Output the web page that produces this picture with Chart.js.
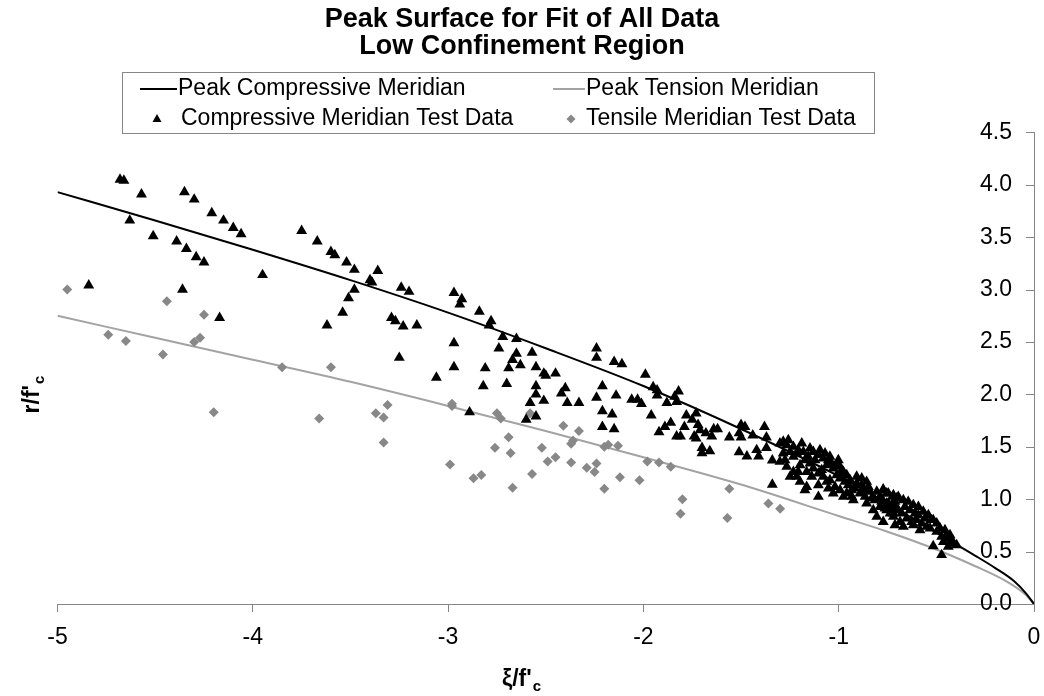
<!DOCTYPE html>
<html><head><meta charset="utf-8">
<script src="https://cdn.jsdelivr.net/npm/chart.js@4"></script>
<style>html,body{margin:0;padding:0;background:#fff}</style>
</head><body>
<canvas id="c" width="1044" height="696"></canvas>
<script>
// ---- data ----
const titleLines = ['Peak Surface for Fit of All Data', 'Low Confinement Region'];
const seriesNames = ['Peak Compressive Meridian', 'Peak Tension Meridian', 'Compressive Meridian Test Data', 'Tensile Meridian Test Data'];
const xTicks = [-5, -4, -3, -2, -1, 0];
const yTicks = [0, 0.5, 1, 1.5, 2, 2.5, 3, 3.5, 4, 4.5];

const compLineX = [-5, -4.5, -4, -3.5, -3, -2.5, -2, -1.5, -1, -0.75, -0.5, -0.3, -0.2, -0.1, -0.04, 0];
const compLineY = [3.93, 3.66, 3.38, 3.09, 2.78, 2.44, 2.08, 1.67, 1.22, 0.96, 0.68, 0.46, 0.345, 0.215, 0.1, 0];
const tensLineX = [-5, -4.5, -4, -3.5, -3, -2.5, -2, -1.5, -1, -0.75, -0.5, -0.3, -0.15, -0.05, 0];
const tensLineY = [2.75, 2.54, 2.33, 2.12, 1.89, 1.65, 1.40, 1.14, 0.84, 0.69, 0.52, 0.36, 0.225, 0.10, 0];

const compX = [-4.68,-4.66,-4.57,-4.35,-4.30,-4.21,-4.15,-4.10,-4.06,-4.63,-4.51,-4.39,-4.34,-4.29,-4.25,-3.95,-4.84,-4.36,-4.17,
 -3.75,-3.67,-3.60,-3.58,-3.52,-3.48,-3.36,-3.40,-3.39,-3.48,-3.51,-3.54,-3.62,-3.24,-3.20,-3.29,-3.27,-3.23,-3.16,-3.25,
 -2.97,-2.93,-2.94,-2.84,-2.78,-2.79,-2.72,-2.65,-2.97,-2.74,-2.65,-2.67,-2.57,-2.63,-2.69,-2.81,-2.97,-3.06,-2.55,-2.51,-2.50,-2.45,
 -2.70,-2.82,-2.55,-2.55,-2.51,-2.58,-2.55,-2.60,-2.89,
 -2.24,-2.24,-2.15,-2.11,-1.99,-2.40,-2.42,-2.21,-2.24,-2.14,-2.39,-2.33,-2.21,-2.16,-2.21,-2.15,-1.95,-1.93,-1.93,-1.82,-1.84,-1.83,
 -2.06,-2.03,-2.01,-1.88,-1.96,-1.92,-1.89,-1.86,-1.78,-1.75,-1.73,-1.79,-1.72,-1.71,-1.83,-1.81,-1.74,-1.73,-1.70,-1.66,-1.70,
 -1.68,-1.64,-1.62,-1.65,-1.56,-1.50,-1.48,-1.51,-1.50,-1.44,-1.38,-1.37,-1.51,-1.47,-1.42,-1.41,-1.37,-1.34,-1.34,
 -1.284,-1.266,-1.284,-1.249,-1.232,-1.207,-1.147,-1.104,-1.053,-1.173,-1.198,-1.266,-1.249,-1.207,-1.164,-1.138,-1.198,-1.164,
 -1.104,-1.104,-1.173,-1.087,-1.061,-1.028,-0.993,-0.976,-0.959,-0.942,-0.908,-0.882,-0.857,-1.045,-1.019,-0.993,-0.976,-0.917,
 -0.891,-0.874,-0.840,-0.805,-0.772,-0.754,-0.720,-0.703,-0.925,-0.857,-0.823,-0.789,-0.754,-0.720,-0.695,-0.805,
 -0.772,-0.720,-0.669,-0.618,-0.567,-0.524,-0.481,-0.447,-0.421,-0.396,-0.772,-0.516,-0.473,-0.754,-0.729,-0.703,-0.677,-0.652,
 -0.626,-0.601,-0.575,-0.549,-0.686,-0.618,-0.532,-0.498,-0.473,-0.447,-0.413,-0.737,-0.712,-0.635,-0.592,
 -1.301,-1.258,-1.232,-1.215,-1.189,-1.181,-1.156,-1.130,-1.121,-1.096,-1.079,-1.070,-1.045,-1.036,-1.010,-1.002,-0.993,-0.968,
 -0.951,-0.933,-0.908,-0.882,-0.865,-0.848,-0.831,-0.814,-0.789,-0.780,-0.746,-0.729,-0.712,-1.104,-1.079,-1.061,-1.232,-1.215,
 -1.130,-1.147,-1.053,-1.028,-0.959,-0.933,-1.010,-0.993,-1.301,-1.275,
 -0.746,-0.695,-0.644,-0.592,-0.541,-0.498,-0.456,-0.430,-0.780,-0.763,-0.720,-0.661,-0.609,-0.558,-0.516,-0.584,-0.669,-0.712,-0.464,-0.439];
const compY = [4.05,4.04,3.91,3.93,3.86,3.73,3.66,3.59,3.53,3.66,3.51,3.46,3.39,3.31,3.26,3.14,3.04,3.00,2.73,
 3.56,3.46,3.36,3.33,3.26,3.19,3.18,3.09,3.07,3.00,2.92,2.78,2.66,3.02,2.98,2.73,2.70,2.65,2.66,2.35,
 2.97,2.91,2.86,2.79,2.70,2.66,2.55,2.53,2.49,2.44,2.39,2.33,2.40,2.28,2.25,2.25,2.26,2.16,2.26,2.20,2.18,2.20,
 2.10,2.08,2.08,2.00,1.94,1.92,1.79,1.76,1.83,
 2.44,2.35,2.31,2.29,2.19,2.06,2.01,2.08,1.97,1.99,1.92,1.92,1.84,1.81,1.69,1.67,2.07,2.04,1.99,2.03,1.98,1.93,
 1.95,1.95,1.91,1.92,1.80,1.64,1.69,1.73,1.80,1.76,1.82,1.69,1.71,1.66,1.60,1.60,1.60,1.58,1.49,1.46,1.44,
 1.63,1.67,1.67,1.60,1.59,1.71,1.69,1.63,1.59,1.61,1.69,1.59,1.45,1.41,1.47,1.41,1.49,1.37,1.14,
 1.549,1.517,1.438,1.453,1.406,1.469,1.486,1.422,1.374,1.374,1.326,1.310,1.215,1.262,1.262,1.215,1.167,1.119,
 1.135,1.024,1.088,1.279,1.326,1.295,1.247,1.262,1.231,1.183,1.215,1.199,1.167,1.183,1.119,1.088,1.024,1.104,
 1.056,1.088,1.072,1.072,1.088,1.056,1.024,1.009,0.992,0.961,0.897,0.928,0.897,0.865,0.897,0.833,
 1.094,1.040,0.992,0.945,0.881,0.802,0.722,0.658,0.611,0.563,0.785,0.553,0.468,0.961,0.928,0.897,0.865,0.818,
 0.785,0.802,0.770,0.738,0.785,0.754,0.722,0.690,0.642,0.627,0.579,0.865,0.976,0.897,0.849,
 1.533,1.565,1.501,1.438,1.533,1.453,1.406,1.453,1.374,1.469,1.390,1.438,1.406,1.343,1.326,1.374,1.199,1.167,
 1.135,1.088,1.152,1.135,1.024,1.119,1.009,0.992,1.024,0.976,0.961,0.945,0.928,1.247,1.215,1.167,1.262,1.215,
 1.295,1.343,1.104,1.056,1.056,1.024,1.231,1.310,1.358,1.374,
 1.056,1.024,0.976,0.928,0.849,0.770,0.706,0.658,1.009,0.913,0.833,0.928,0.865,0.818,0.802,0.706,0.738,0.754,0.594,0.547];

const tensX = [-4.95,-4.44,-4.25,-4.74,-4.65,-4.46,-4.30,-4.27,-3.85,-4.20,
 -3.60,-3.66,-3.31,-3.37,-3.33,-3.33,-2.98,-2.98,-2.75,-2.73,-2.58,-2.69,-2.76,-2.68,-2.52,-2.45,-2.49,-2.99,-2.83,-2.87,-2.57,-2.67,
 -2.41,-2.33,-2.36,-2.37,-2.37,-2.29,-2.25,-2.24,-2.20,-2.18,-2.13,-2.20,-2.12,-2.02,-1.98,-1.92,-1.86,-1.80,-1.81,-1.56,-1.57,-1.36,-1.30];
const tensY = [3.00,2.89,2.76,2.57,2.51,2.38,2.50,2.54,2.26,1.83,
 2.26,1.77,1.90,1.82,1.78,1.54,1.91,1.89,1.82,1.77,1.82,1.59,1.49,1.44,1.49,1.40,1.36,1.33,1.23,1.20,1.24,1.11,
 1.70,1.65,1.56,1.53,1.35,1.30,1.26,1.34,1.50,1.52,1.51,1.10,1.21,1.18,1.36,1.35,1.31,1.00,0.86,1.10,0.82,0.96,0.91];

const pts = (xs, ys) => xs.map((x, i) => ({x: x, y: ys[i]}));

const FONT = '"Liberation Sans", Arial, sans-serif';
const AXIS_GRAY = '#868686';
const LINE_GRAY = '#a3a3a3';
const DIAMOND_GRAY = '#888888';
Chart.defaults.font.family = FONT;
Chart.defaults.color = '#000';

const decor = {
  id: 'decor',
  afterDraw(chart) {
    const ctx = chart.ctx;
    const ca = chart.chartArea;
    const ys = chart.scales.y;
    ctx.save();
    // title
    ctx.fillStyle = '#000'; ctx.textAlign = 'center'; ctx.textBaseline = 'middle';
    ctx.font = 'bold 27px ' + FONT;
    ctx.fillText(titleLines[0], 522, 20);
    ctx.fillText(titleLines[1], 522, 47);
    // inward tick marks of the value axis
    ctx.strokeStyle = AXIS_GRAY; ctx.lineWidth = 1;
    yTicks.forEach(v => {
      const py = Math.round(ys.getPixelForValue(v)) + 0.5;
      ctx.beginPath(); ctx.moveTo(ca.right - 8, py); ctx.lineTo(ca.right, py); ctx.stroke();
    });
    // legend box
    ctx.strokeRect(122.5, 72.5, 752, 61);
    ctx.font = '23px ' + FONT; ctx.fillStyle = '#000'; ctx.textBaseline = 'middle'; ctx.textAlign = 'left';
    const r1 = 89, r2 = 119;
    ctx.lineWidth = 2;
    ctx.strokeStyle = '#000';
    ctx.beginPath(); ctx.moveTo(140, r1); ctx.lineTo(177, r1); ctx.stroke();
    ctx.fillText(seriesNames[0], 178, r1);
    ctx.strokeStyle = LINE_GRAY;
    ctx.beginPath(); ctx.moveTo(553, r1); ctx.lineTo(585, r1); ctx.stroke();
    ctx.fillText(seriesNames[1], 586, r1);
    ctx.fillStyle = '#000';
    ctx.beginPath(); ctx.moveTo(157, r2 - 5); ctx.lineTo(161.5, r2 + 3); ctx.lineTo(152.5, r2 + 3); ctx.closePath(); ctx.fill();
    ctx.fillText(seriesNames[2], 181, r2);
    ctx.fillStyle = DIAMOND_GRAY;
    ctx.beginPath(); ctx.moveTo(571, r2 - 4.5); ctx.lineTo(575.5, r2); ctx.lineTo(571, r2 + 4.5); ctx.lineTo(566.5, r2); ctx.closePath(); ctx.fill();
    ctx.fillStyle = '#000';
    ctx.fillText(seriesNames[3], 586, r2);
    // axis titles with subscript c
    const drawSub = (main, sub, cx, cy) => {
      ctx.font = 'bold 23px ' + FONT;
      const w1 = ctx.measureText(main).width;
      ctx.font = 'bold 15px ' + FONT;
      const w2 = ctx.measureText(sub).width;
      const x0 = cx - (w1 + w2) / 2;
      ctx.textAlign = 'left'; ctx.textBaseline = 'alphabetic';
      ctx.font = 'bold 23px ' + FONT;
      ctx.fillText(main, x0, cy + 8);
      ctx.font = 'bold 15px ' + FONT;
      ctx.fillText(sub, x0 + w1 + 1, cy + 13);
    };
    ctx.fillStyle = '#000';
    drawSub('\u03BE/f\'', 'c', 521, 678);
    ctx.save();
    ctx.translate(31, 395);
    ctx.rotate(-Math.PI / 2);
    drawSub('r/f\'', 'c', 0, 0);
    ctx.restore();
    ctx.restore();
  }
};

new Chart(document.getElementById('c'), {
  type: 'scatter',
  data: {
    datasets: [
      {label: seriesNames[0], type: 'line', data: pts(compLineX, compLineY), borderColor: '#000', borderWidth: 2,
       pointRadius: 0, cubicInterpolationMode: 'monotone', fill: false, order: 3},
      {label: seriesNames[1], type: 'line', data: pts(tensLineX, tensLineY), borderColor: LINE_GRAY, borderWidth: 2,
       pointRadius: 0, cubicInterpolationMode: 'monotone', fill: false, order: 4},
      {label: seriesNames[2], data: pts(compX, compY), pointStyle: 'triangle', pointRadius: 6.3,
       backgroundColor: '#000', borderColor: '#000', borderWidth: 0, order: 1},
      {label: seriesNames[3], data: pts(tensX, tensY), pointStyle: 'rectRot', pointRadius: 5,
       backgroundColor: DIAMOND_GRAY, borderColor: DIAMOND_GRAY, borderWidth: 0, order: 2}
    ]
  },
  options: {
    responsive: false, animation: false, devicePixelRatio: 1,
    layout: {padding: {left: 57.5, right: 10, top: 132.4, bottom: 0}},
    plugins: {legend: {display: false}, tooltip: {enabled: false}, title: {display: false}},
    scales: {
      x: {
        type: 'linear', position: 'bottom', min: -5, max: 0,
        afterBuildTicks(s) { s.ticks = xTicks.map(v => ({value: v})); },
        afterFit(s) { s.height = 92; s.paddingLeft = 0; s.paddingRight = 0; },
        ticks: {color: '#000', font: {size: 23}, padding: 12, callback: v => String(v), maxRotation: 0, autoSkip: false},
        grid: {drawOnChartArea: false, drawTicks: true, tickLength: 8, color: AXIS_GRAY},
        border: {display: true, color: AXIS_GRAY}
      },
      y: {
        type: 'linear', position: 'right', min: 0, max: 4.5,
        afterBuildTicks(s) { s.ticks = yTicks.map(v => ({value: v})); },
        afterFit(s) { s.width = 0; s.paddingTop = 0; s.paddingBottom = 0; },
        ticks: {color: '#000', font: {size: 23}, mirror: true, padding: -22, callback: v => v.toFixed(1), autoSkip: false},
        grid: {display: false},
        border: {display: true, color: AXIS_GRAY}
      }
    }
  },
  plugins: [decor]
});
</script>
</body></html>
